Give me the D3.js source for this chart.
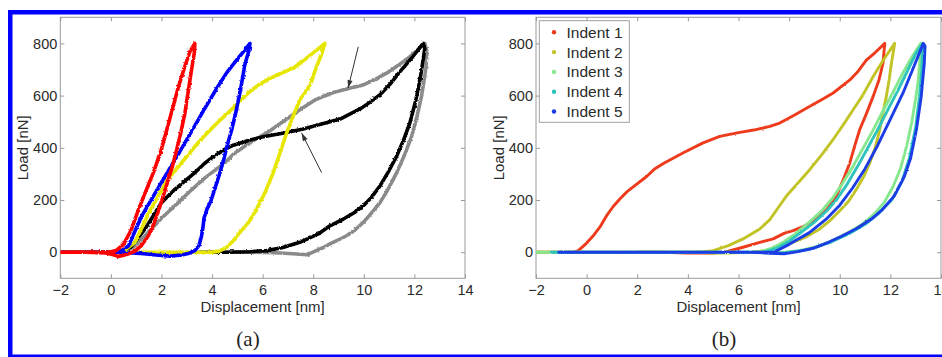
<!DOCTYPE html>
<html><head><meta charset="utf-8">
<script src="https://cdn.jsdelivr.net/npm/d3@7"></script>
<style>body{margin:0;background:#fff}svg{display:block}</style>
</head><body><svg id="c" width="942" height="357"></svg>
<script>
// ---------- data ----------
const xTicks = [-2, 0, 2, 4, 6, 8, 10, 12, 14];
const yTicks = [0, 200, 400, 600, 800];
const xLabel = "Displacement [nm]";
const yLabel = "Load [nN]";
const panelLabels = ["(a)", "(b)"];

// panel (a): [displacement nm, load nN]
const grayA = [[-2,0],[-1,0],[0.5,0],[0.9,20],[1.35,63],[2.0,130],[2.66,190],[3.2,240],[3.72,285],[4.51,343],[4.84,375],[5.5,420],[6.16,457],[6.8,500],[7.47,546],[8.1,585],[8.79,612],[9.32,625],[9.98,641],[10.45,662],[10.9,686],[11.35,715],[11.82,749],[12.41,800],[12.5,770],[12.45,700],[12.28,597],[12.1,520],[11.89,444],[11.6,370],[11.3,305],[10.95,240],[10.64,190],[10.3,150],[9.98,114],[9.65,85],[9.32,63],[8.95,45],[8.66,32],[8.4,18],[8.1,5],[7.74,-10],[7.2,-6],[6.5,-2],[5.5,0],[4.5,0]];
const blackA = [[-2,0],[-1,0],[0.3,0],[0.8,20],[1.35,89],[2.0,190],[2.53,241],[3.32,305],[3.7,340],[4.05,366],[4.5,394],[4.84,410],[5.5,430],[6.02,442],[6.95,459],[7.6,472],[8.26,489],[9.06,510],[9.85,549],[10.25,575],[10.64,603],[11.05,645],[11.43,692],[11.9,745],[12.35,800],[12.41,780],[12.35,740],[12.22,660],[12.05,580],[11.82,495],[11.55,425],[11.3,368],[10.95,305],[10.64,254],[10.3,210],[9.98,178],[9.6,150],[9.19,127],[8.66,101],[8.2,70],[7.47,38],[6.8,18],[6.16,6],[5.5,2],[4.5,0],[3.5,0]];
const yellowA = [[-2,0],[-1,0],[0,0],[0.5,4],[0.95,38],[1.5,150],[2.2,273],[2.9,355],[3.52,428],[4.2,495],[4.84,553],[5.4,608],[5.89,645],[6.5,676],[7.21,705],[7.8,748],[8.46,800],[8.3,750],[8.13,711],[7.87,640],[7.47,584],[7.2,520],[6.95,457],[6.7,385],[6.42,305],[6.1,230],[5.76,165],[5.45,115],[5.1,76],[4.85,45],[4.58,19],[4.3,5],[4.0,0],[3,0],[2,0],[1,0]];
const blueA = [[-2,0],[-1,0],[0,0],[0.4,4],[0.7,25],[0.95,80],[1.2,135],[1.5,185],[1.8,235],[2.2,300],[2.66,375],[3.2,465],[3.72,552],[4.2,630],[4.58,688],[5.0,740],[5.3,775],[5.5,800],[5.45,770],[5.3,720],[5.12,620],[4.95,540],[4.78,470],[4.6,410],[4.45,350],[4.28,295],[4.1,240],[3.95,195],[3.8,165],[3.68,130],[3.64,95],[3.58,60],[3.48,25],[3.32,6],[3.1,-4],[2.8,-11],[2.34,-15],[1.8,-11],[1.3,-6],[0.88,-3],[0.3,0],[-1,0],[-2,0]];
const redA = [[-2,0],[-1.2,1],[-0.5,0],[0,2],[0.2,6],[0.5,30],[0.8,85],[1.08,160],[1.3,215],[1.68,305],[2.0,395],[2.2,465],[2.45,555],[2.66,630],[2.9,705],[3.13,770],[3.32,800],[3.3,765],[3.19,700],[3.05,612],[2.93,535],[2.77,460],[2.6,393],[2.45,335],[2.27,279],[2.07,215],[1.87,155],[1.68,105],[1.48,63],[1.2,25],[0.95,4],[0.6,-10],[0.29,-16],[0.1,-10],[-0.2,-3],[-1,0],[-2,0]];
const arrowsA = [[[9.78,787],[9.38,629]], [[8.33,305],[7.54,457]]];

// panel (b)
const legendNames = ["Indent 1", "Indent 2", "Indent 3", "Indent 4", "Indent 5"];
const indent1 = [[-2,0],[-1,0],[-0.5,0],[-0.33,6],[0,35],[0.26,63],[0.55,100],[0.79,140],[1.05,175],[1.32,205],[1.6,232],[1.84,250],[2.37,290],[2.7,320],[3.03,340],[3.82,381],[4.6,419],[5.26,444],[6.0,458],[6.6,468],[7.24,482],[7.63,495],[8.2,525],[8.82,559],[9.3,585],[9.74,610],[10.4,660],[10.7,690],[11.05,736],[11.4,765],[11.78,800],[11.75,770],[11.71,724],[11.55,660],[11.32,597],[11.05,530],[10.79,470],[10.6,410],[10.4,343],[10.15,280],[9.87,216],[9.5,165],[9.08,127],[8.6,100],[8.16,83],[7.8,72],[7.37,51],[6.84,38],[6.18,19],[5.53,2],[5,-3],[4,-3],[3,0],[2,0]];
const indent2 = [[-2,0],[0,0],[2,0],[4,0],[4.6,2],[5.0,6],[5.6,25],[6.18,51],[6.84,89],[7.24,125],[7.6,175],[7.9,216],[8.35,265],[8.82,317],[9.3,375],[9.74,432],[10.15,490],[10.53,546],[10.9,600],[11.32,673],[11.75,740],[12.17,800],[12.12,770],[12.04,724],[11.95,660],[11.84,597],[11.7,530],[11.58,470],[11.4,400],[11.19,343],[10.95,290],[10.66,241],[10.35,195],[10.0,159],[9.6,120],[9.21,89],[8.7,60],[8.16,38],[7.6,18],[7.11,6],[6.5,0],[5.5,-3],[5,-3],[4.5,0]];
const indent3 = [[-2,0],[-1,0],[1,0],[3,0],[5,0],[6.8,0],[7.3,15],[7.8,40],[8.3,75],[8.8,115],[9.3,160],[9.7,205],[10.1,262],[10.5,325],[10.9,395],[11.3,465],[11.7,540],[12.1,612],[12.5,688],[12.85,748],[13.2,800],[13.17,740],[13.1,660],[13.0,590],[12.85,500],[12.65,410],[12.4,320],[12.1,250],[11.75,190],[11.35,145],[10.85,105],[10.25,70],[9.65,42],[9.05,20],[8.45,7],[7.85,0],[7.2,-2],[6.5,0]];
const indent4 = [[-1.4,0],[0,0],[2,0],[4,0],[6,0],[7.0,0],[7.5,15],[8.0,42],[8.5,78],[9.0,115],[9.5,160],[9.9,205],[10.3,262],[10.7,328],[11.1,398],[11.5,470],[11.9,545],[12.3,620],[12.7,700],[13.0,760],[13.28,800],[13.24,700],[13.15,597],[13.0,480],[12.75,360],[12.45,270],[12.05,200],[11.55,150],[11.05,110],[10.35,70],[9.55,35],[8.75,10],[8.0,0],[7.5,-4],[7,0]];
const indent5 = [[-1.1,0],[0,0],[2,0],[4,0],[6,0],[7.4,0],[8.0,30],[8.8,75],[9.5,130],[10.0,180],[10.5,245],[11.0,320],[11.5,410],[12.0,510],[12.5,610],[12.9,705],[13.3,800],[13.37,790],[13.34,724],[13.22,597],[13.03,470],[12.8,360],[12.55,290],[12.15,215],[11.65,160],[11.25,127],[10.65,90],[10.05,60],[9.55,38],[8.95,15],[8.35,2],[7.8,-6],[7.3,-4],[6.5,0],[5,0]];

// ---------- drawing ----------
const svg = d3.select("#c");
const axisColor = "#9a9a9a", textColor = "#2a2a2a";
const font = "'Liberation Sans', Arial, Helvetica, sans-serif";

const defs = svg.append("defs");
[["roughA", 2.8, 0.45], ["roughB", 2.0, 0.4]].forEach(([id, sc, fq]) => {
  const f = defs.append("filter").attr("id", id).attr("x", "-2%").attr("y", "-2%").attr("width", "104%").attr("height", "104%");
  f.append("feTurbulence").attr("type", "fractalNoise").attr("baseFrequency", fq).attr("numOctaves", 1).attr("seed", 4).attr("result", "n");
  f.append("feDisplacementMap").attr("in", "SourceGraphic").attr("in2", "n").attr("scale", sc)
    .attr("xChannelSelector", "R").attr("yChannelSelector", "G");
});

// blue frame
svg.append("rect").attr("x", 8).attr("y", 10).attr("width", 934).attr("height", 4.5).attr("fill", "#0000ff");
svg.append("rect").attr("x", 8).attr("y", 10).attr("width", 4.5).attr("height", 347).attr("fill", "#0000ff");
svg.append("rect").attr("x", 8).attr("y", 354.5).attr("width", 934).attr("height", 2.5).attr("fill", "#0000ff");

function panel(id, left, right, labelX, series, widths, filterId) {
  const top = 17.3, bottom = 278.3;
  const x = d3.scaleLinear().domain([-2, 14]).range([left, right]);
  const y = d3.scaleLinear().domain([-100, 900]).range([bottom, top]);
  const g = svg.append("g");
  g.append("rect").attr("x", left).attr("y", top).attr("width", right - left).attr("height", bottom - top).attr("fill", "#fff");
  g.append("clipPath").attr("id", "clip" + id).append("rect")
    .attr("x", left).attr("y", top).attr("width", right - left).attr("height", bottom - top);

  const fmt = d => (d < 0 ? "\u2212" + Math.abs(d) : String(d));
  const styleAxis = sel => {
    sel.select(".domain").remove();
    sel.selectAll(".tick line").attr("stroke", axisColor);
    sel.selectAll(".tick text").attr("fill", textColor).style("font-family", font).style("font-size", "14.5px");
  };
  g.append("g").attr("transform", `translate(0,${bottom})`)
    .call(d3.axisBottom(x).tickValues(xTicks).tickSize(-4).tickPadding(6).tickFormat(fmt)).call(styleAxis);
  g.append("g").attr("transform", `translate(0,${top})`)
    .call(d3.axisTop(x).tickValues(xTicks).tickSize(-4).tickFormat("")).call(styleAxis);
  g.append("g").attr("transform", `translate(${left},0)`)
    .call(d3.axisLeft(y).tickValues(yTicks).tickSize(-4).tickPadding(3).tickFormat(fmt)).call(styleAxis);
  g.append("g").attr("transform", `translate(${right},0)`)
    .call(d3.axisRight(y).tickValues(yTicks).tickSize(-4).tickFormat("")).call(styleAxis);
  g.append("rect").attr("x", left).attr("y", top).attr("width", right - left).attr("height", bottom - top)
    .attr("fill", "none").attr("stroke", axisColor).attr("stroke-width", 1);

  const line = d3.line().x(d => x(d[0])).y(d => y(d[1]));
  const lg = g.append("g").attr("clip-path", `url(#clip${id})`).append("g").attr("filter", `url(#${filterId})`);
  series.forEach(s => {
    lg.append("path").attr("d", line(s.data)).attr("fill", "none")
      .attr("stroke", s.color).attr("stroke-width", widths)
      .attr("stroke-linejoin", "round").attr("stroke-linecap", "round");
  });

  g.append("text").attr("x", (left + right) / 2).attr("y", 312).attr("text-anchor", "middle")
    .attr("fill", textColor).style("font-family", font).style("font-size", "15px").text(xLabel);
  g.append("text").attr("transform", `translate(${left - 32.5},${(top + bottom) / 2}) rotate(-90)`)
    .attr("text-anchor", "middle").attr("fill", textColor).style("font-family", font).style("font-size", "15px").text(yLabel);
  g.append("text").attr("x", labelX).attr("y", 346).attr("text-anchor", "middle")
    .attr("fill", "#222").style("font-family", "'Liberation Serif', 'DejaVu Serif', serif").style("font-size", "21px").text(panelLabels[id]);
  return {g, x, y};
}

const pa = panel(0, 60.3, 465, 248, [
  {data: grayA, color: "#8a8a8a"},
  {data: blackA, color: "#000000"},
  {data: yellowA, color: "#e6e600"},
  {data: blueA, color: "#0000ff"},
  {data: redA, color: "#ff0000"}
], 3.6, "roughA");

arrowsA.forEach(a => {
  const x0 = pa.x(a[0][0]), y0 = pa.y(a[0][1]), x1 = pa.x(a[1][0]), y1 = pa.y(a[1][1]);
  const ang = Math.atan2(y1 - y0, x1 - x0), L = 8, W = 2.6;
  pa.g.append("line").attr("x1", x0).attr("y1", y0).attr("x2", x1).attr("y2", y1).attr("stroke", "#333").attr("stroke-width", 1);
  const bx = x1 - L * Math.cos(ang), by = y1 - L * Math.sin(ang);
  pa.g.append("path").attr("d", `M${x1},${y1}L${bx - W * Math.sin(ang)},${by + W * Math.cos(ang)}L${bx + W * Math.sin(ang)},${by - W * Math.cos(ang)}Z`).attr("fill", "#333");
});

const colorsB = ["#ee3a1c", "#c2c428", "#86e88e", "#2ec4bc", "#1a3ce6"];
const pb = panel(1, 536, 941, 724, [indent1, indent2, indent3, indent4, indent5].map((d, i) => ({data: d, color: colorsB[i]})), 2.9, "roughB");

// legend
const lgx = 539.3, lgy = 20.7;
pb.g.append("rect").attr("x", lgx).attr("y", lgy).attr("width", 90).attr("height", 101.6)
  .attr("fill", "#fff").attr("stroke", "#a0a0a0").attr("stroke-width", 1);
legendNames.forEach((n, i) => {
  const cy = 32.3 + i * 19.8;
  pb.g.append("circle").attr("cx", 554).attr("cy", cy).attr("r", 2.2).attr("fill", colorsB[i]);
  pb.g.append("text").attr("x", 566.5).attr("y", cy).attr("dy", "0.36em").attr("fill", textColor)
    .style("font-family", font).style("font-size", "15.5px").text(n);
});
</script></body></html>
